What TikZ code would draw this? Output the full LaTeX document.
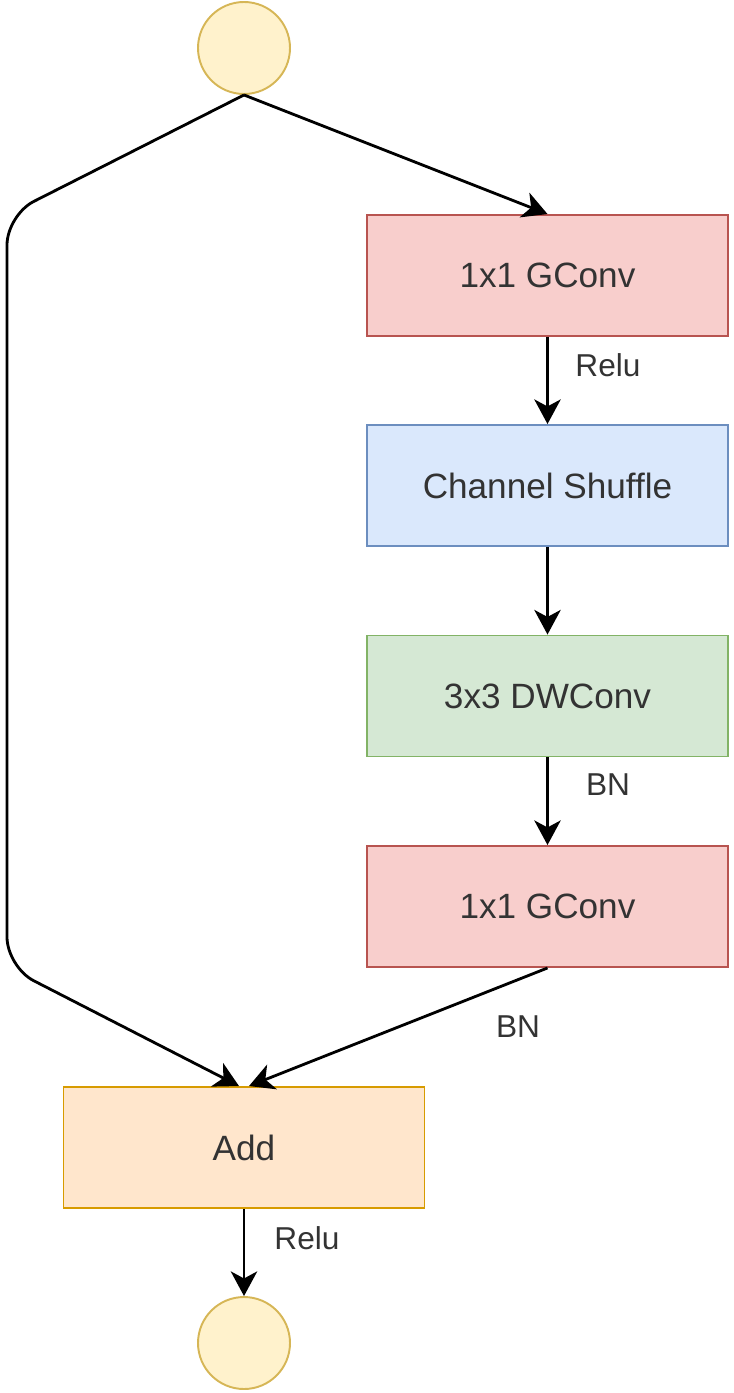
\documentclass[tikz,border=0pt]{standalone}
\usepackage{fontspec}
\setmainfont{Liberation Sans}
\usetikzlibrary{arrows.meta}

\definecolor{redfill}{HTML}{F8CECC}
\definecolor{reddraw}{HTML}{B85450}
\definecolor{bluefill}{HTML}{DAE8FC}
\definecolor{bluedraw}{HTML}{6C8EBF}
\definecolor{greenfill}{HTML}{D5E8D4}
\definecolor{greendraw}{HTML}{82B366}
\definecolor{orangefill}{HTML}{FFE6CC}
\definecolor{orangedraw}{HTML}{D79B00}
\definecolor{yellowfill}{HTML}{FFF2CC}
\definecolor{yellowdraw}{HTML}{D6B656}

\begin{document}
\begin{tikzpicture}
		\tikzset{blk/.style={rectangle, line width=1.1pt, minimum width=7.22cm, minimum height=2.42cm, text=black!80, font=\fontsize{20}{24}\selectfont}};
		\tikzset{io/.style={circle, line width=1.1pt, minimum size=1.84cm, fill=yellowfill, draw=yellowdraw}};
		\tikzset{lbl/.style={text=black!80, font=\fontsize{18}{22}\selectfont}};
		\tikzset{arr/.style={line width=1.6pt, -{Stealth[length=14pt, width=15pt, inset=4pt]}}};

		\useasboundingbox (0, 0) rectangle (14.66, -27.86);

		\node[io] (in) at (4.88, -0.96) {};
		\node[blk, fill=redfill, draw=reddraw] (gc1) at (10.95, -5.51) {1x1 GConv};
		\node[blk, fill=bluefill, draw=bluedraw] (cs) at (10.95, -9.71) {Channel Shuffle};
		\node[blk, fill=greenfill, draw=greendraw] (dw) at (10.95, -13.92) {3x3 DWConv};
		\node[blk, fill=redfill, draw=reddraw] (gc2) at (10.95, -18.13) {1x1 GConv};
		\node[blk, fill=orangefill, draw=orangedraw] (add) at (4.88, -22.95) {Add};
		\node[io] (out) at (4.88, -26.86) {};

		\coordinate (t) at (0.14, -4.30);
		\coordinate (b) at (0.14, -19.34);

		\node[lbl] (relu1) at (12.16, -7.30) {Relu};
		\node[lbl] (bn1) at (12.16, -15.70) {BN};
		\node[lbl] (bn2) at (10.36, -20.54) {BN};
		\node[lbl] (relu2) at (6.14, -24.76) {Relu};

		\draw[arr] (in.south) -- (gc1.north);
		\draw[arr] (gc1) -- (cs);
		\draw[arr] (cs) -- (dw);
		\draw[arr] (dw) -- (gc2);
		\draw[arr] (gc2.south) -- ([xshift=0.1cm]add.north);
		\draw[arr, rounded corners=0.6cm] (in.south) -- (t) -- (b) -- ([xshift=-0.1cm]add.north);
		\draw[arr] (add) -- (out);

	\end{tikzpicture}
\end{document}
